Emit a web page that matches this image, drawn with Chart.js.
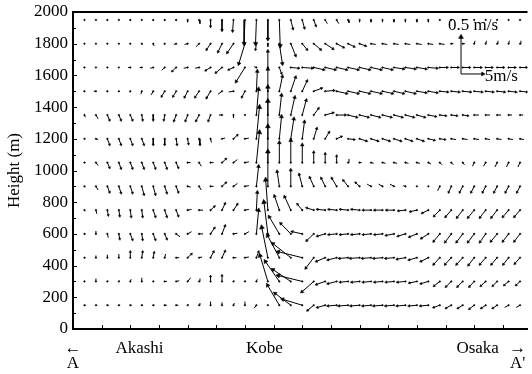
<!DOCTYPE html>
<html>
<head>
<meta charset="utf-8">
<script src="https://cdn.jsdelivr.net/npm/chart.js@4.4.1/dist/chart.umd.min.js"></script>
<style>
  html, body { margin: 0; padding: 0; background: #fff; }
</style>
</head>
<body>
<canvas id="quiver" width="532" height="374"></canvas>
<script>
// grid of the section A-A' : columns in km, rows in m
const distKm = [2,4,6,8,10,12,14,16,18,20,22,24,26,28,30,32,34,36,38,40,42,44,46,48,50,52,54,56,58,60,62,64,66,68,70,72,74,76,78];
const heightM = [150,300,450,600,750,900,1050,1200,1350,1500,1650,1800,1950];

// horizontal wind u (m/s), one list per row
const u150 = [0.3,0.3,0.3,0.3,0.3,0.3,0.3,0.5,0.5,0.2,0.2,0,0,0.2,0,-0.5,0,-2.7,-3.6,-4.5,-1.4,-1.8,-2.0,-2.1,-2.0,-1.9,-2.0,-1.9,-1.9,-1.8,-1.8,-1.4,-1.2,-1.1,-1.1,-1.0,-1.0,-0.9,-0.9];
const u300 = [0,0,0.2,0.2,0.2,0,0.2,0.5,0.7,0.7,0.2,0,0,0.2,0.2,0.2,-1.8,-3.2,-4.1,-5.5,-2.7,-2.0,-2.0,-1.8,-1.8,-1.8,-1.8,-1.8,-1.8,-1.7,-1.7,-1.3,-1.2,-1.2,-1.1,-1.1,-1.0,-1.0,-0.9];
const u450 = [0.2,0,0,0,0,0.2,0.2,0.2,0.7,0.9,0.7,0.7,0.7,0.7,0.9,0.5,-1.4,-2.7,-4.1,-5.5,-1.8,-2.0,-2.0,-2.0,-2.1,-2.0,-2.0,-1.9,-1.9,-1.8,-1.7,-1.4,-1.4,-1.4,-1.3,-1.3,-1.3,-1.2,-1.2];
const u600 = [0.2,0,0.2,0.2,0.5,0.2,0.5,0.5,0.9,0.9,0.9,0.9,0.7,0.9,0.9,0.5,-0.9,-2.3,-2.3,-2.3,-1.6,-1.8,-1.8,-1.8,-1.8,-1.8,-1.8,-1.8,-1.7,-1.7,-1.6,-1.4,-1.4,-1.4,-1.4,-1.3,-1.4,-1.3,-1.3];
const u750 = [0.2,0.2,0.2,0.2,0.2,0.2,0.5,0.5,0.5,0.9,0.9,0.9,0.7,0.9,0.9,0.2,-0.5,-1.1,-1.4,-1.1,-1.6,-1.8,-1.8,-1.8,-1.8,-1.8,-1.8,-1.7,-1.6,-1.5,-1.4,-1.3,-1.3,-1.3,-1.4,-1.3,-1.3,-1.3,-1.3];
const u900 = [0.2,0.5,0.5,0.5,0.5,0.5,0.5,0.5,0.5,0.7,0.5,0.7,0.9,0.9,0.9,0.5,0,-0.5,0,-0.7,-0.9,-0.9,-1.1,-1.1,-0.9,-0.9,-0.9,-0.9,-0.5,-0.2,0,-0.5,-0.6,-0.7,-0.7,-0.7,-0.7,-0.7,-0.7];
const u1050 = [0.2,0.5,0.5,0.5,0.5,0.5,0.5,0.5,0.5,0.7,0.5,0.7,0.9,0.9,0.9,0.7,0,0,0,0,0,0,0,0.2,0.5,0.6,0.7,0.7,0.7,0.7,0.6,0.5,0.5,0.4,-0.4,-0.5,-0.5,-0.5,-0.5];
const u1200 = [0.2,0.5,0.5,0.5,0.5,0.5,0,0,0.2,0.2,0.2,0.2,0.7,0.9,0.9,0.7,0,0.5,0.7,0.5,0.7,0.9,1.1,1.4,1.6,1.6,1.6,1.6,1.5,1.5,1.4,1.2,1.1,1.1,1.1,1.0,1.0,1.0,0.9];
const u1350 = [0.2,0.5,0.5,0.5,0.5,0.2,0,-0.2,-0.5,-0.5,-0.7,-0.5,-0.7,0,0,0.5,0,0.5,0.9,0.9,1.1,1.8,2.0,2.0,2.0,2.0,2.0,1.9,1.9,1.8,1.7,1.4,1.3,1.2,1.1,1.0,0.9,0.8,0.7];
const u1500 = [-0.2,-0.5,-0.2,0,-0.2,-0.2,-0.5,-0.7,-0.7,-0.7,-0.9,-0.9,-0.9,-1.1,-0.7,0.2,0,0.7,1.1,1.1,1.8,2.0,2.3,2.3,2.3,2.3,2.3,2.2,2.2,2.1,2.0,1.8,1.8,1.8,1.8,1.7,1.7,1.7,1.6];
const u1650 = [-0.2,0,0,0,-0.5,-0.5,-0.7,-0.7,-0.9,-0.9,-0.9,-1.1,-1.4,-1.1,-2.0,-0.5,0,0.5,1.8,2.3,2.3,2.3,2.3,2.3,2.3,2.3,2.2,2.2,2.2,2.1,2.0,1.7,1.6,1.6,1.6,1.5,1.5,1.5,1.5];
const u1800 = [0,0,0,0,0,0.2,0.2,-0.2,-0.5,-0.7,-0.7,-0.9,-0.9,-1.4,-1.4,-0.2,0,0.7,1.1,1.1,1.6,1.8,1.6,1.4,1.4,1.1,1.1,1.1,1.1,1.1,1.1,1.1,0.5,0.5,0.2,0.2,0.2,0.2,0.2];
const u1950 = [0,0,0,0,0,0,0,0,0,0,0.2,0,0,-0.2,-0.2,-0.2,0,0.2,0.5,0.5,0.5,0.5,0.5,0.2,0,0,0,0,0,0,0,0,0,0,0,0,0,0,0];

// vertical wind w (m/s), one list per row
const w150 = [0,0,0,0,0,0,0,0,0,0.01,0.03,0.05,0.04,0.03,0.05,-0.04,0.01,0.27,0.16,0.08,-0.07,-0.03,-0.01,-0.01,-0.01,-0.01,-0.01,-0.01,-0.01,-0.01,-0.01,-0.03,-0.04,-0.04,-0.05,-0.04,-0.04,-0.03,-0.03];
const w300 = [0.01,0.04,0.01,0.01,0.03,0.05,0.01,0,0.01,0.05,0.04,0.07,0.08,0.01,0.01,0.03,0.35,0.27,0.16,0.08,-0.14,-0.04,-0.03,-0.01,-0.01,-0.01,-0.01,-0.01,-0.01,-0.02,-0.03,-0.06,-0.07,-0.07,-0.07,-0.06,-0.06,-0.05,-0.05];
const w450 = [0,0.03,0.04,0.05,0.08,0.08,0.07,0.05,0,0.05,0.01,0.08,0.09,0,0.01,0.08,0.41,0.3,0.19,0.08,-0.14,-0.05,-0.03,-0.01,-0.01,-0.01,-0.01,-0.01,-0.02,-0.03,-0.05,-0.09,-0.09,-0.09,-0.1,-0.09,-0.09,-0.09,-0.08];
const w600 = [0,0.04,-0.05,-0.07,-0.08,-0.08,-0.08,-0.07,-0.04,0.03,0,0.08,0.11,0.01,0.03,0.32,0.43,0.23,0.14,0.03,-0.09,-0.03,-0.01,-0.01,-0.01,-0.01,-0.01,-0.02,-0.03,-0.04,-0.06,-0.1,-0.11,-0.11,-0.11,-0.11,-0.1,-0.1,-0.1];
const w750 = [-0.01,-0.05,-0.07,-0.08,-0.09,-0.09,-0.09,-0.09,-0.08,0.01,0,0.05,0.09,0.08,0.01,0.24,0.41,0.19,0.18,0.08,0.03,0.01,0.01,0.01,0.01,0,0,0,-0.01,-0.02,-0.04,-0.08,-0.09,-0.1,-0.1,-0.1,-0.1,-0.09,-0.09];
const w900 = [-0.01,-0.05,-0.08,-0.09,-0.09,-0.11,-0.11,-0.09,-0.08,-0.01,-0.05,0,0.05,0.04,0.01,0.27,0.47,0.2,0.22,0.16,0.12,0.11,0.11,0.08,0.05,0.03,0.03,0.03,0.01,0,0,-0.06,-0.08,-0.08,-0.08,-0.08,-0.08,-0.08,-0.08];
const w1050 = [0,-0.04,-0.07,-0.08,-0.08,-0.08,-0.08,-0.08,-0.07,0,-0.05,0,0.05,0.04,0.01,0.41,0.49,0.27,0.3,0.24,0.14,0.12,0.09,0.05,0,-0.01,-0.01,-0.01,-0.01,-0.01,-0.02,-0.03,-0.03,-0.03,-0.05,-0.05,-0.06,-0.06,-0.06];
const w1200 = [0,-0.01,-0.08,-0.08,-0.08,-0.08,-0.08,-0.08,-0.08,-0.07,-0.08,-0.05,0.01,0.05,0.01,0.43,0.51,0.3,0.27,0.23,0.14,0.09,0.03,-0.01,-0.03,-0.03,-0.03,-0.03,-0.03,-0.03,-0.02,-0.01,-0.01,-0.01,-0.01,-0.01,-0.01,-0.01,-0.01];
const w1350 = [-0.03,-0.05,-0.07,-0.07,-0.07,-0.07,-0.07,-0.07,-0.08,-0.08,-0.08,-0.08,0,-0.04,0.01,0.35,0.38,0.27,0.24,0.2,0.09,0.03,0,-0.03,-0.03,-0.03,-0.03,-0.03,-0.03,-0.03,-0.02,-0.01,-0.01,-0.01,0,0,0,0,0];
const w1500 = [0,0,0,-0.01,-0.01,-0.04,-0.05,-0.07,-0.07,-0.08,-0.08,-0.09,-0.04,-0.01,-0.08,0.27,0.3,0.2,0.19,0.14,0.04,0.01,-0.03,-0.03,-0.03,-0.03,-0.03,-0.03,-0.03,-0.02,-0.02,-0.01,-0.01,-0.01,-0.01,-0.01,-0.01,-0.01,-0.01];
const w1650 = [0,0,0,0,0,0,-0.01,-0.04,-0.05,-0.01,-0.01,-0.04,-0.07,-0.03,-0.19,0.01,0.22,-0.08,-0.01,-0.01,-0.03,-0.03,-0.03,-0.03,-0.03,-0.03,-0.03,-0.02,-0.02,-0.02,-0.01,0,0,0,0,0,0,0,0];
const w1800 = [0.01,0.01,0.01,0.01,0.01,-0.01,-0.03,-0.01,-0.01,-0.01,-0.04,-0.08,-0.11,-0.12,-0.27,-0.08,-0.04,-0.27,-0.16,-0.08,-0.08,-0.07,-0.05,-0.04,-0.03,-0.01,-0.01,-0.01,-0.01,-0.01,-0.01,-0.01,0,0,0.04,0.04,0.04,0.04,0.04];
const w1950 = [0.01,0.01,-0.01,0.01,-0.01,0.01,-0.01,-0.01,-0.01,-0.03,-0.05,-0.09,-0.14,-0.15,-0.32,-0.32,-0.26,-0.35,-0.12,-0.11,-0.08,-0.05,-0.05,-0.04,-0.03,-0.03,-0.03,-0.03,-0.03,-0.03,-0.03,0.01,0.01,0.01,0.01,0.01,0.01,0.01,0.01];

const uRows = [u150,u300,u450,u600,u750,u900,u1050,u1200,u1350,u1500,u1650,u1800,u1950];
const wRows = [w150,w300,w450,w600,w750,w900,w1050,w1200,w1350,w1500,w1650,w1800,w1950];

// reference vectors (5 m/s horizontal, 0.5 m/s vertical) and where they sit
const keyU = [0, 5];
const keyW = [0.5, 0];
const keyText = ['0.5 m/s', '5m/s'];
const keyAt = [67.7, 1609];
// arrow length: 5 m/s -> 3.8 km along x, 0.5 m/s -> 233 m along y
const KM_PER_MS = 3.8 / 5;
const M_PER_MS = 233 / 0.5;

const xTickKm = [0, 11.6, 33.4, 70.6, 77.6];
const xTickText = [['\u2190', 'A'], 'Akashi', 'Kobe', 'Osaka', ['\u2192', "A'"]];
const yMinor = [100,200,300,400,500,600,700,800,900,1000,1100,1200,1300,1400,1500,1600,1700,1800,1900];
const xMinor = [5,10,15,20,25,30,35,40,45,50,55,60,65,70,75];

const SERIF = "'Liberation Serif', 'Times New Roman', serif";

function arrowPoints(x0, y0, u, w) {
  const hx = x0 + u * KM_PER_MS;
  const hy = y0 + w * M_PER_MS;
  return [
    {x: x0, y: y0, role: 'tail'},
    {x: hx, y: hy, role: 'head', tx: x0, ty: y0},
    {x: hx, y: null, role: 'gap'}
  ];
}

const fieldPts = [];
heightM.forEach((h, r) => {
  distKm.forEach((d, c) => {
    fieldPts.push(...arrowPoints(d, h, uRows[r][c], wRows[r][c]));
  });
});
const keyPts = [];
keyU.forEach((u, i) => keyPts.push(...arrowPoints(keyAt[0], keyAt[1], u, keyW[i])));

// pixel geometry of a head point, from the chart's scales
function headPix(ctx) {
  const p = ctx.raw;
  const xs = ctx.chart.scales.x, ys = ctx.chart.scales.y;
  const dx = xs.getPixelForValue(p.x) - xs.getPixelForValue(p.tx);
  const dy = ys.getPixelForValue(p.y) - ys.getPixelForValue(p.ty);
  return {dx, dy, len: Math.hypot(dx, dy)};
}
const pointRot = ctx => {
  if (!ctx.raw || ctx.raw.role !== 'head') return 0;
  const g = headPix(ctx);
  return Math.atan2(g.dx, -g.dy) * 180 / Math.PI;
};
const pointRad = tailR => ctx => {
  const p = ctx.raw;
  if (!p) return 0;
  if (p.role === 'tail') return tailR;
  if (p.role !== 'head') return 0;
  const len = headPix(ctx).len;
  return len < 5 ? 0 : Math.min(2.8, 1 + len * 0.06);
};
const pointSty = ctx => (ctx.raw && ctx.raw.role === 'head') ? 'triangle' : 'circle';

const frame = {
  id: 'frame',
  beforeDraw(chart) {
    const c = chart.ctx;
    c.save();
    c.fillStyle = '#fff';
    c.fillRect(0, 0, chart.width, chart.height);
    c.restore();
  },
  afterDraw(chart) {
    const {ctx, chartArea: a, scales: {x, y}} = chart;
    ctx.save();
    ctx.strokeStyle = '#000';
    ctx.lineWidth = 2;
    ctx.beginPath();
    ctx.moveTo(a.left - 1, a.top);
    ctx.lineTo(a.right, a.top);
    ctx.stroke();
    // inward ticks
    ctx.lineWidth = 1;
    ctx.beginPath();
    yMinor.forEach(v => {
      const p = Math.round(y.getPixelForValue(v)) + 0.5;
      ctx.moveTo(a.left, p);
      ctx.lineTo(a.left + (v % 200 ? 3 : 4), p);
    });
    xMinor.forEach(v => {
      const p = Math.round(x.getPixelForValue(v)) + 0.5;
      ctx.moveTo(p, a.bottom);
      ctx.lineTo(p, a.bottom - 4);
    });
    ctx.stroke();
    // key labels
    ctx.fillStyle = '#000';
    ctx.font = '17px ' + SERIF;
    ctx.textBaseline = 'middle';
    ctx.textAlign = 'left';
    const vx = x.getPixelForValue(keyAt[0] + keyU[0] * KM_PER_MS);
    const vy = y.getPixelForValue(keyAt[1] + keyW[0] * M_PER_MS);
    ctx.fillText(keyText[0], vx - 13, vy - 12);
    const hx = x.getPixelForValue(keyAt[0] + keyU[1] * KM_PER_MS);
    const hy = y.getPixelForValue(keyAt[1] + keyW[1] * M_PER_MS);
    ctx.fillText(keyText[1], hx + 2, hy + 3);
    ctx.restore();
  }
};

const arrowDataset = (data, tailR) => ({
  data: data,
  borderColor: '#000',
  borderWidth: 1,
  backgroundColor: '#000',
  tension: 0,
  spanGaps: false,
  pointBackgroundColor: '#000',
  pointBorderColor: '#000',
  pointBorderWidth: 0.5,
  pointStyle: pointSty,
  pointRotation: pointRot,
  pointRadius: pointRad(tailR)
});

new Chart(document.getElementById('quiver'), {
  type: 'line',
  data: {
    datasets: [arrowDataset(fieldPts, 0.8), arrowDataset(keyPts, 0)]
  },
  options: {
    responsive: false,
    animation: false,
    events: [],
    layout: {padding: {top: 12, right: 0, left: 0, bottom: 0}},
    plugins: {legend: {display: false}, tooltip: {enabled: false}},
    scales: {
      x: {
        type: 'linear',
        min: 0,
        max: 79.3,
        afterBuildTicks: s => { s.ticks = xTickKm.map(v => ({value: v})); },
        afterFit: s => { s.height = 45; s.paddingLeft = 0; s.paddingRight = 0; },
        grid: {display: false, drawTicks: false},
        border: {display: true, color: '#000', width: 2},
        ticks: {
          autoSkip: false,
          maxRotation: 0,
          padding: 12,
          color: '#000',
          font: {family: SERIF, size: 17, lineHeight: 0.9},
          callback: (v, i) => xTickText[i]
        }
      },
      y: {
        min: 0,
        max: 2000,
        afterFit: s => { s.width = 73; s.paddingTop = 0; s.paddingBottom = 0; },
        grid: {display: false, drawTicks: false},
        border: {display: true, color: '#000', width: 2},
        ticks: {
          stepSize: 200,
          padding: 5,
          color: '#000',
          font: {family: SERIF, size: 17},
          callback: v => String(v)
        },
        title: {
          display: true,
          text: 'Height (m)',
          color: '#000',
          padding: {top: 4, bottom: 0},
          font: {family: SERIF, size: 17}
        }
      }
    }
  },
  plugins: [frame]
});
</script>
</body>
</html>
